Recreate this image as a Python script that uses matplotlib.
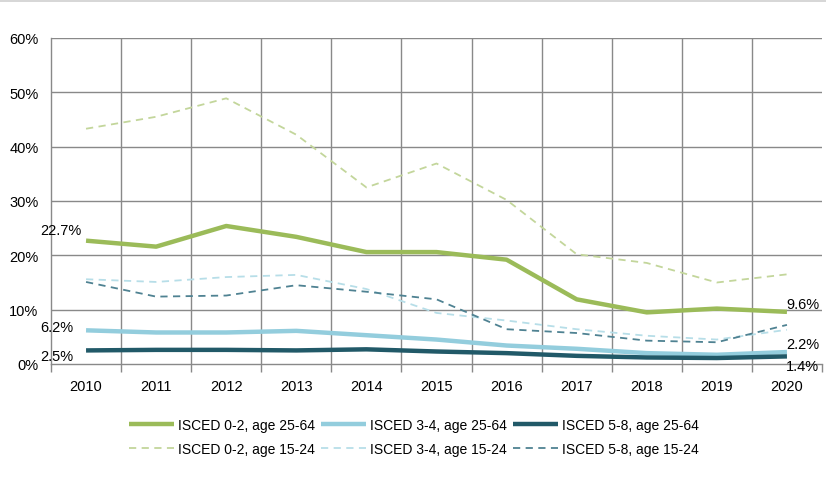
import matplotlib
matplotlib.use("Agg")
import matplotlib.pyplot as plt
from matplotlib.lines import Line2D

plt.rcParams['font.family'] = ['Liberation Sans', 'DejaVu Sans']

years = ["2010", "2011", "2012", "2013", "2014", "2015", "2016", "2017", "2018", "2019", "2020"]

isced02_2564 = [22.7, 21.6, 25.4, 23.4, 20.6, 20.6, 19.2, 11.9, 9.5, 10.2, 9.6]
isced34_2564 = [6.2, 5.8, 5.8, 6.1, 5.3, 4.5, 3.4, 2.8, 2.0, 1.7, 2.2]
isced58_2564 = [2.5, 2.6, 2.6, 2.5, 2.7, 2.3, 2.0, 1.5, 1.2, 1.1, 1.4]
isced02_1524 = [43.3, 45.5, 48.9, 42.2, 32.5, 36.9, 30.2, 20.2, 18.6, 15.0, 16.5]
isced34_1524 = [15.6, 15.1, 16.0, 16.4, 13.8, 9.4, 8.0, 6.4, 5.2, 4.5, 6.3]
isced58_1524 = [15.1, 12.4, 12.6, 14.5, 13.3, 11.9, 6.4, 5.7, 4.3, 4.0, 7.2]

labels = ["ISCED 0-2, age 25-64", "ISCED 3-4, age 25-64", "ISCED 5-8, age 25-64",
          "ISCED 0-2, age 15-24", "ISCED 3-4, age 15-24", "ISCED 5-8, age 15-24"]

c_green = "#9BBB59"
c_lblue = "#93CDDD"
c_dark = "#215968"
c_green_d = "#C3D69B"
c_lblue_d = "#B7DEE8"
c_dark_d = "#4F8292"

fig = plt.figure(figsize=(8.26, 4.81), dpi=100)
W, H = 826, 481
ax = fig.add_axes([51 / W, 1 - 365 / H, (822 - 51) / W, (365 - 39) / H])

x = list(range(len(years)))
series = [
    (isced02_2564, c_green, '-', 3.2),
    (isced34_2564, c_lblue, '-', 3.2),
    (isced58_2564, c_dark, '-', 3.2),
    (isced02_1524, c_green_d, (0, (4, 3)), 1.3),
    (isced34_1524, c_lblue_d, (0, (4, 3)), 1.3),
    (isced58_1524, c_dark_d, (0, (4, 3)), 1.3),
]
handles = []
for (vals, col, ls, lw), lab in zip(series, labels):
    h, = ax.plot(x, vals, color=col, linestyle=ls, linewidth=lw, label=lab,
                 solid_capstyle='butt', zorder=3)
    handles.append(h)

ax.set_xlim(-0.5, len(years) - 0.5)
ax.set_ylim(0, 60)
yt = [0, 10, 20, 30, 40, 50, 60]
ax.set_yticks(yt)
ax.set_yticklabels([f"{v}%" for v in yt], fontsize=10.5)
ax.tick_params(axis='y', length=0, pad=9)

bounds = [i - 0.5 for i in range(len(years) + 1)]
ax.set_xticks(bounds)
ax.set_xticklabels([""] * len(bounds))
ax.set_xticks(x, minor=True)
ax.set_xticklabels(years, minor=True, fontsize=10.5)
ax.tick_params(axis='x', which='major', length=6, color="#898989", width=1)
ax.tick_params(axis='x', which='minor', length=0, pad=11)

grid_c = "#898989"
ax.grid(False)
for yv in yt[1:]:
    ax.axhline(yv, color=grid_c, linewidth=1, zorder=1)
for b in bounds[1:-1]:
    ax.axvline(b, color=grid_c, linewidth=1, zorder=1)
for s in ['top', 'right']:
    ax.spines[s].set_visible(False)
ax.spines['left'].set_color(grid_c)
ax.spines['bottom'].set_color(grid_c)
ax.spines['left'].set_linewidth(1)
ax.spines['bottom'].set_linewidth(1)

# data labels (offsets in pixels)
fs_lab = 10.5
def lab(xi, val, dx, dy, va):
    ax.annotate(f"{val}%", (xi, val), xytext=(dx, dy), textcoords='offset pixels',
                fontsize=fs_lab, ha='left', va=va, zorder=5)

lab(x[0], isced02_2564[0], -46, 4, 'bottom')
lab(x[0], isced34_2564[0], -46, 3, 'center')
lab(x[0], isced58_2564[0], -46, -6, 'center')
lab(x[-1], isced02_2564[-1], -1, 1, 'bottom')
lab(x[-1], isced34_2564[-1], -1, 1, 'bottom')
lab(x[-1], isced58_2564[-1], -1, -3, 'top')

order = [0, 3, 1, 4, 2, 5]
leg = fig.legend(handles=[handles[i] for i in order], labels=[labels[i] for i in order],
                 ncol=3, loc='center',
                 bbox_to_anchor=(414 / W, 1 - 438 / H), frameon=False,
                 fontsize=10, handlelength=3.2, handletextpad=0.3,
                 columnspacing=0.45, labelspacing=0.75)

# decorative frame line at top
fig.add_artist(Line2D([0, 1], [1 - 1.5 / H, 1 - 1.5 / H], color="#D0D0D0", linewidth=1.2))

fig.savefig("out.png", dpi=100)
